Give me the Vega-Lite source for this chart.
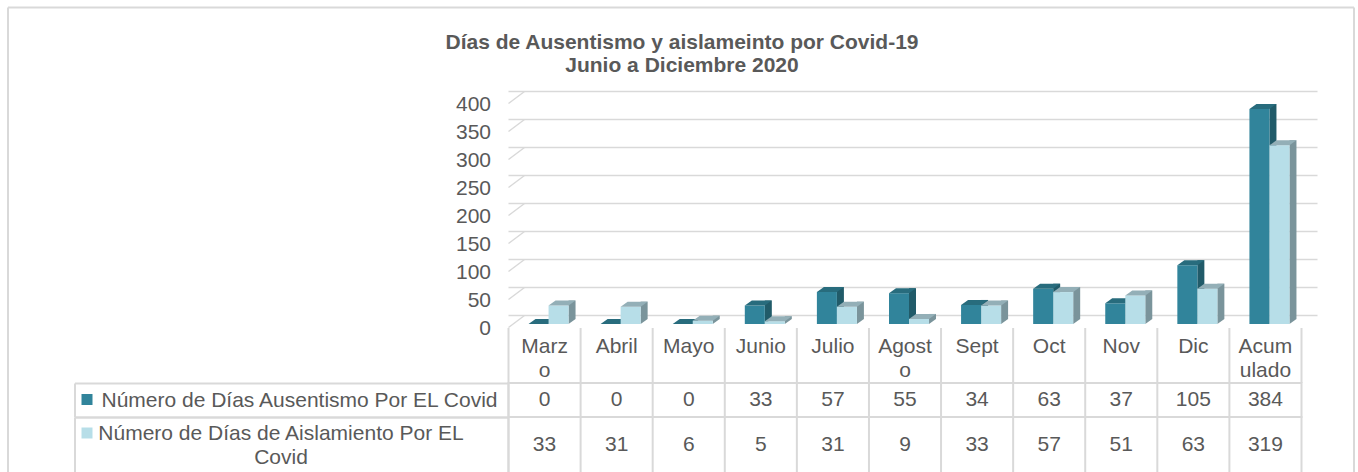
{
  "$schema": "https://vega.github.io/schema/vega-lite/v6.json",
  "background": "white",
  "padding": {"left": 4.5, "top": 4, "right": 0, "bottom": 0},
  "datasets": {
    "meses": [
      {"mes": "Marzo"}, {"mes": "Abril"}, {"mes": "Mayo"}, {"mes": "Junio"}, {"mes": "Julio"},
      {"mes": "Agosto"}, {"mes": "Sept"}, {"mes": "Oct"}, {"mes": "Nov"}, {"mes": "Dic"}, {"mes": "Acumulado"}
    ],
    "ticks": [{"v": 0}, {"v": 50}, {"v": 100}, {"v": 150}, {"v": 200}, {"v": 250}, {"v": 300}, {"v": 350}, {"v": 400}],
    "barras": [
      {"mes": "Marzo", "serie": "Número de Días Ausentismo Por EL Covid", "valor": 0},
      {"mes": "Abril", "serie": "Número de Días Ausentismo Por EL Covid", "valor": 0},
      {"mes": "Mayo", "serie": "Número de Días Ausentismo Por EL Covid", "valor": 0},
      {"mes": "Junio", "serie": "Número de Días Ausentismo Por EL Covid", "valor": 33},
      {"mes": "Julio", "serie": "Número de Días Ausentismo Por EL Covid", "valor": 57},
      {"mes": "Agosto", "serie": "Número de Días Ausentismo Por EL Covid", "valor": 55},
      {"mes": "Sept", "serie": "Número de Días Ausentismo Por EL Covid", "valor": 34},
      {"mes": "Oct", "serie": "Número de Días Ausentismo Por EL Covid", "valor": 63},
      {"mes": "Nov", "serie": "Número de Días Ausentismo Por EL Covid", "valor": 37},
      {"mes": "Dic", "serie": "Número de Días Ausentismo Por EL Covid", "valor": 105},
      {"mes": "Acumulado", "serie": "Número de Días Ausentismo Por EL Covid", "valor": 384},
      {"mes": "Marzo", "serie": "Número de Días de Aislamiento Por EL Covid", "valor": 33},
      {"mes": "Abril", "serie": "Número de Días de Aislamiento Por EL Covid", "valor": 31},
      {"mes": "Mayo", "serie": "Número de Días de Aislamiento Por EL Covid", "valor": 6},
      {"mes": "Junio", "serie": "Número de Días de Aislamiento Por EL Covid", "valor": 5},
      {"mes": "Julio", "serie": "Número de Días de Aislamiento Por EL Covid", "valor": 31},
      {"mes": "Agosto", "serie": "Número de Días de Aislamiento Por EL Covid", "valor": 9},
      {"mes": "Sept", "serie": "Número de Días de Aislamiento Por EL Covid", "valor": 33},
      {"mes": "Oct", "serie": "Número de Días de Aislamiento Por EL Covid", "valor": 57},
      {"mes": "Nov", "serie": "Número de Días de Aislamiento Por EL Covid", "valor": 51},
      {"mes": "Dic", "serie": "Número de Días de Aislamiento Por EL Covid", "valor": 63},
      {"mes": "Acumulado", "serie": "Número de Días de Aislamiento Por EL Covid", "valor": 319}
    ]
  },
  "spacing": 0,
  "bounds": "flush",
  "vconcat": [
    {
      "width": 793,
      "height": 228,
      "resolve": {"scale": {"x": "independent", "y": "independent"}, "axis": {"x": "independent", "y": "independent"}},
      "layer": [
        {
          "layer": [
            {
              "data": {"name": "ticks"},
              "mark": {"type": "rule", "color": "#d9d9d9", "strokeWidth": 1.5, "xOffset": 16, "x2Offset": 16, "yOffset": -8.5},
              "encoding": {
                "y": {
                  "field": "v", "type": "quantitative",
                  "scale": {"domain": [0, 400], "range": [224, 0], "nice": false},
                  "axis": {
                    "values": [0, 50, 100, 150, 200, 250, 300, 350, 400], "tickCount": 9,
                    "domain": false, "ticks": false, "grid": false, "title": null, "labelOverlap": false,
                    "labelFontSize": 21, "labelColor": "#595959", "labelFont": "Liberation Sans",
                    "labelPadding": 18, "labelOffset": 4
                  }
                }
              }
            },
            {
              "data": {"name": "ticks"},
              "mark": {"type": "rule", "color": "#d9d9d9", "strokeWidth": 1.5, "yOffset": 3.5, "y2Offset": -8.5, "x2Offset": 16},
              "encoding": {
                "x": {"datum": "Marzo", "type": "nominal", "bandPosition": 0},
                "x2": {"datum": "Marzo", "bandPosition": 0},
                "y": {"field": "v", "type": "quantitative"},
                "y2": {"field": "v"}
              }
            },
            {
              "data": {"name": "barras"},
              "transform": [{"filter": "datum.serie == 'Número de Días Ausentismo Por EL Covid'"}],
              "mark": {"type": "rule", "strokeWidth": 7, "strokeCap": "butt", "xOffset": 7.5, "yOffset": -5, "y2Offset": -5, "color": "#215b69"},
              "encoding": {
                "x": {"field": "mes", "type": "nominal"},
                "y": {"field": "valor", "type": "quantitative"},
                "y2": {"datum": 0}
              }
            },
            {
              "data": {"name": "barras"},
              "transform": [{"filter": "datum.serie == 'Número de Días Ausentismo Por EL Covid'"}],
              "mark": {"type": "point", "shape": "M1,-0.5L1,0L1.7,-0.5Z", "size": 400, "filled": true, "opacity": 1, "strokeWidth": 0, "color": "#215b69"},
              "encoding": {
                "x": {"field": "mes", "type": "nominal"},
                "xOffset": {"field": "serie", "type": "nominal"},
                "y": {"datum": 0, "type": "quantitative"}
              }
            },
            {
              "data": {"name": "barras"},
              "transform": [{"filter": "datum.serie == 'Número de Días Ausentismo Por EL Covid'"}],
              "mark": {"type": "bar"},
              "encoding": {
                "x": {
                  "field": "mes", "type": "nominal",
                  "scale": {"domain": ["Marzo", "Abril", "Mayo", "Junio", "Julio", "Agosto", "Sept", "Oct", "Nov", "Dic", "Acumulado"], "paddingInner": 0, "paddingOuter": 0},
                  "axis": {
                    "orient": "bottom", "domain": false, "ticks": false, "grid": false, "title": null,
                    "bandPosition": 0.5, "labelAlign": "center",
                    "labelAngle": 0, "labelFontSize": 21, "labelColor": "#595959", "labelFont": "Liberation Sans",
                    "labelBaseline": "alphabetic", "labelPadding": 24, "labelLineHeight": 24,
                    "labelExpr": "datum.value == 'Marzo' ? ['Marz', 'o'] : datum.value == 'Agosto' ? ['Agost', 'o'] : datum.value == 'Acumulado' ? ['Acum', 'ulado'] : datum.value"
                  }
                },
                "xOffset": {
                  "field": "serie", "type": "nominal",
                  "scale": {"domain": ["Número de Días Ausentismo Por EL Covid", "Número de Días de Aislamiento Por EL Covid"], "paddingInner": 0, "paddingOuter": 0.8, "align": 0.625}
                },
                "y": {"field": "valor", "type": "quantitative"},
                "color": {
                  "field": "serie", "type": "nominal",
                  "scale": {"domain": ["Número de Días Ausentismo Por EL Covid", "Número de Días de Aislamiento Por EL Covid"], "range": ["#31849b", "#b7dee8"]},
                  "legend": {
                    "title": null, "orient": "none", "legendX": -427, "legendY": 294, "padding": 0,
                    "symbolType": "square", "symbolSize": 121, "symbolStrokeWidth": 0,
                    "labelExpr": "''", "labelFontSize": 1, "rowPadding": 22.5
                  }
                }
              }
            },
            {
              "data": {"name": "barras"},
              "transform": [{"filter": "datum.serie == 'Número de Días Ausentismo Por EL Covid'"}],
              "mark": {"type": "point", "shape": "M-1,0L-0.3,-0.5L1.7,-0.5L1,0Z", "size": 400, "filled": true, "opacity": 1, "strokeWidth": 0, "color": "#286c7d"},
              "encoding": {
                "x": {"field": "mes", "type": "nominal"},
                "xOffset": {"field": "serie", "type": "nominal"},
                "y": {"field": "valor", "type": "quantitative"}
              }
            },
            {
              "data": {"name": "barras"},
              "transform": [{"filter": "datum.serie == 'Número de Días de Aislamiento Por EL Covid'"}],
              "mark": {"type": "rule", "strokeWidth": 7, "strokeCap": "butt", "xOffset": 27.5, "yOffset": -5, "y2Offset": -5, "color": "#7a949b"},
              "encoding": {
                "x": {"field": "mes", "type": "nominal"},
                "y": {"field": "valor", "type": "quantitative"},
                "y2": {"datum": 0}
              }
            },
            {
              "data": {"name": "barras"},
              "transform": [{"filter": "datum.serie == 'Número de Días de Aislamiento Por EL Covid'"}],
              "mark": {"type": "point", "shape": "M1,-0.5L1,0L1.7,-0.5Z", "size": 400, "filled": true, "opacity": 1, "strokeWidth": 0, "color": "#7a949b"},
              "encoding": {
                "x": {"field": "mes", "type": "nominal"},
                "xOffset": {"field": "serie", "type": "nominal"},
                "y": {"datum": 0, "type": "quantitative"}
              }
            },
            {
              "data": {"name": "barras"},
              "transform": [{"filter": "datum.serie == 'Número de Días de Aislamiento Por EL Covid'"}],
              "mark": {"type": "bar"},
              "encoding": {
                "x": {"field": "mes", "type": "nominal"},
                "xOffset": {"field": "serie", "type": "nominal"},
                "y": {"field": "valor", "type": "quantitative"},
                "color": {"field": "serie", "type": "nominal"}
              }
            },
            {
              "data": {"name": "barras"},
              "transform": [{"filter": "datum.serie == 'Número de Días de Aislamiento Por EL Covid'"}],
              "mark": {"type": "point", "shape": "M-1,0L-0.3,-0.5L1.7,-0.5L1,0Z", "size": 400, "filled": true, "opacity": 1, "strokeWidth": 0, "color": "#93afb7"},
              "encoding": {
                "x": {"field": "mes", "type": "nominal"},
                "xOffset": {"field": "serie", "type": "nominal"},
                "y": {"field": "valor", "type": "quantitative"}
              }
            }
          ]
        },
        {
          "data": {"name": "ticks"},
          "mark": {"type": "point", "opacity": 0},
          "encoding": {
            "x": {
              "field": "v", "type": "quantitative",
              "scale": {"domain": [0, 400], "range": [-501, 845], "nice": false, "zero": false},
              "axis": {
                "orient": "top", "offset": 93, "domain": true, "domainColor": "#d9d9d9", "domainWidth": 2,
                "ticks": false, "labels": false, "grid": false,
                "title": ["Días de Ausentismo y aislameinto por Covid-19", "Junio a Diciembre 2020"],
                "titleFontSize": 21, "titleFontWeight": "bold", "titleColor": "#595959", "titleFont": "Liberation Sans",
                "titleX": 173, "titleY": 41.5, "titleAlign": "center", "titleBaseline": "alphabetic", "titleLineHeight": 23, "titleAngle": 0
              }
            },
            "y": {
              "field": "v", "type": "quantitative",
              "scale": {"domain": [0, 400], "range": [373, -93], "nice": false},
              "axis": {
                "orient": "left", "offset": 501, "domain": true, "domainColor": "#d9d9d9", "domainWidth": 2,
                "ticks": false, "labels": false, "grid": false, "title": null
              }
            }
          }
        },
        {
          "data": {"name": "ticks"},
          "mark": {"type": "point", "opacity": 0},
          "encoding": {
            "y": {
              "field": "v", "type": "quantitative",
              "scale": {"domain": [0, 400], "range": [373, -93], "nice": false},
              "axis": {
                "orient": "right", "offset": 52, "domain": true, "domainColor": "#d9d9d9", "domainWidth": 2,
                "ticks": false, "labels": false, "grid": false, "title": null
              }
            }
          }
        }
      ]
    },
    {
      "width": 793,
      "height": 55,
      "data": {"name": "meses"},
      "layer": [
        {
          "mark": {"type": "rule", "color": "#d9d9d9", "strokeWidth": 2},
          "encoding": {
            "x": {
              "field": "mes", "type": "nominal", "bandPosition": 0,
              "scale": {"domain": ["Marzo", "Abril", "Mayo", "Junio", "Julio", "Agosto", "Sept", "Oct", "Nov", "Dic", "Acumulado"], "paddingInner": 0, "paddingOuter": 0},
              "axis": null
            }
          }
        },
        {
          "transform": [{"filter": "datum.mes == 'Acumulado'"}],
          "mark": {"type": "rule", "color": "#d9d9d9", "strokeWidth": 2},
          "encoding": {
            "x": {"field": "mes", "type": "nominal", "bandPosition": 1}
          }
        }
      ]
    },
    {
      "width": 793,
      "height": 34,
      "view": {"stroke": "#d9d9d9", "strokeWidth": 2},
      "layer": [
        {
          "data": {"name": "meses"},
          "mark": {"type": "rule", "color": "#d9d9d9", "strokeWidth": 2},
          "encoding": {
            "x": {
              "field": "mes", "type": "nominal", "bandPosition": 0,
              "scale": {"domain": ["Marzo", "Abril", "Mayo", "Junio", "Julio", "Agosto", "Sept", "Oct", "Nov", "Dic", "Acumulado"], "paddingInner": 0, "paddingOuter": 0},
              "axis": null
            }
          }
        },
        {
          "data": {"name": "barras"},
          "transform": [{"filter": "datum.serie == 'Número de Días Ausentismo Por EL Covid'"}],
          "mark": {"type": "text", "fontSize": 21, "font": "Liberation Sans", "color": "#595959", "baseline": "middle"},
          "encoding": {
            "x": {"field": "mes", "type": "nominal"},
            "y": {
              "field": "serie", "type": "nominal",
              "axis": {
                "orient": "left", "offset": 434, "title": null,
                "domain": true, "domainColor": "#d9d9d9", "domainWidth": 2,
                "ticks": true, "tickBand": "extent", "tickSize": -434, "tickColor": "#d9d9d9", "tickWidth": 2,
                "labelAlign": "center", "labelBaseline": "middle", "labelPadding": 209.5, "labelLimit": 600,
                "labelFontSize": 21, "labelColor": "#595959", "labelFont": "Liberation Sans"
              }
            },
            "text": {"field": "valor", "type": "quantitative"}
          }
        }
      ]
    },
    {
      "width": 793,
      "height": 56,
      "view": {"stroke": "#d9d9d9", "strokeWidth": 2},
      "layer": [
        {
          "data": {"name": "meses"},
          "mark": {"type": "rule", "color": "#d9d9d9", "strokeWidth": 2},
          "encoding": {
            "x": {
              "field": "mes", "type": "nominal", "bandPosition": 0,
              "scale": {"domain": ["Marzo", "Abril", "Mayo", "Junio", "Julio", "Agosto", "Sept", "Oct", "Nov", "Dic", "Acumulado"], "paddingInner": 0, "paddingOuter": 0},
              "axis": null
            }
          }
        },
        {
          "data": {"name": "barras"},
          "transform": [{"filter": "datum.serie == 'Número de Días de Aislamiento Por EL Covid'"}],
          "mark": {"type": "text", "fontSize": 21, "font": "Liberation Sans", "color": "#595959", "baseline": "middle"},
          "encoding": {
            "x": {"field": "mes", "type": "nominal"},
            "y": {
              "field": "serie", "type": "nominal",
              "axis": {
                "orient": "left", "offset": 434, "title": null,
                "domain": true, "domainColor": "#d9d9d9", "domainWidth": 2,
                "ticks": true, "tickBand": "extent", "tickSize": -434, "tickColor": "#d9d9d9", "tickWidth": 2,
                "labelAlign": "center", "labelBaseline": "middle", "labelPadding": 228, "labelLimit": 600, "labelLineHeight": 24, "labelOffset": -12,
                "labelFontSize": 21, "labelColor": "#595959", "labelFont": "Liberation Sans",
                "labelExpr": "datum.value == 'Número de Días de Aislamiento Por EL Covid' ? ['Número de Días de Aislamiento Por EL', 'Covid'] : datum.value"
              }
            },
            "text": {"field": "valor", "type": "quantitative"}
          }
        }
      ]
    }
  ],
  "config": {
    "view": {"stroke": null},
    "font": "Liberation Sans",
    "axisQuantitative": {"tickCount": 9, "labelOverlap": false}
  }
}
